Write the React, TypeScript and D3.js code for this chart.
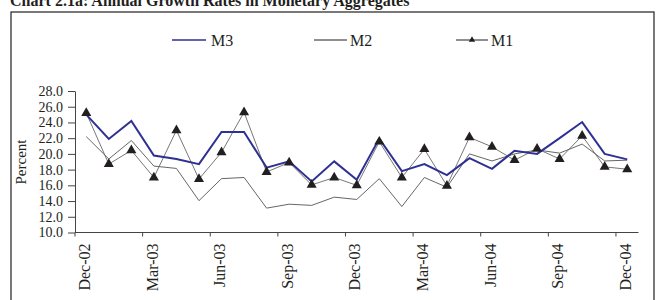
import * as d3 from 'd3'
import { useEffect, useRef } from 'react'

const months = [
  'Dec-02', 'Jan-03', 'Feb-03', 'Mar-03', 'Apr-03', 'May-03', 'Jun-03', 'Jul-03', 'Aug-03',
  'Sep-03', 'Oct-03', 'Nov-03', 'Dec-03', 'Jan-04', 'Feb-04', 'Mar-04', 'Apr-04', 'May-04',
  'Jun-04', 'Jul-04', 'Aug-04', 'Sep-04', 'Oct-04', 'Nov-04', 'Dec-04',
]
const m3 = [
  25.0, 21.9, 24.2, 19.8, 19.35, 18.7, 22.8, 22.8, 18.25, 19.05, 16.5, 19.05, 16.7,
  21.95, 17.8, 18.7, 17.3, 19.45, 18.1, 20.4, 20.0, 22.0, 24.05, 20.0, 19.3,
]
const m2 = [
  22.2, 19.35, 21.7, 18.45, 18.15, 14.05, 16.85, 17.0, 13.1, 13.6, 13.45, 14.5, 14.2,
  16.85, 13.3, 17.0, 15.75, 20.0, 19.1, 20.0, 20.5, 20.1, 21.25, 19.1, 19.2,
]
const m1 = [
  25.2, 18.7, 20.45, 17.0, 23.0, 16.8, 20.2, 25.3, 17.7, 18.9, 16.05, 17.0, 16.0,
  21.55, 17.0, 20.6, 15.95, 22.1, 20.9, 19.2, 20.65, 19.35, 22.3, 18.35, 18.05,
]
const yTicks = [10, 12, 14, 16, 18, 20, 22, 24, 26, 28]

const width = 657
const height = 300
const marginLeft = 75
const axisRight = 638.5
const yTop = 91
const yBottom = 232.5
const blue = '#2E3192'
const font = '"Liberation Serif", "DejaVu Serif", serif'

export default function App() {
  const x = d3.scaleBand(months, [marginLeft, axisRight]).paddingInner(0).paddingOuter(0)
  const y = d3.scaleLinear([10, 28], [yBottom, yTop])
  const cx = (i: number) => (x(months[i]) ?? 0) + x.bandwidth() / 2
  const line = d3.line<number>((v, i) => cx(i), y)
  const tri = d3.symbol(d3.symbolTriangle, 44)()
  const triSmall = d3.symbol(d3.symbolTriangle, 18)()
  const gyRef = useRef<SVGGElement>(null)

  useEffect(() => {
    const g = gyRef.current
    if (!g) return
    const sel = d3.select(g)
    sel.selectAll('*').remove()
    sel.call(
      d3.axisLeft(y).tickValues(yTicks).tickFormat(d3.format('.1f')).tickSize(7).tickPadding(5).tickSizeOuter(0)
    )
    sel.select('.domain').attr('stroke', '#444')
    sel.selectAll('.tick line').attr('stroke', '#444')
    sel.selectAll('.tick text')
      .attr('font-family', font)
      .attr('font-size', 14)
      .attr('fill', '#231f20')
  }, [y])

  const xTickIdx = months.map((m, i) => i).filter((i) => i % 3 === 0)

  return (
    <svg width={width} height={height} style={{ position: 'absolute', left: 0, top: 0 }}>
      <rect width={width} height={height} fill="white" />
      <text x={10} y={6} fontFamily={font} fontWeight="bold" fontSize={16} fill="#231f20">
        Chart 2.1a: Annual Growth Rates in Monetary Aggregates
      </text>
      <rect x={11} y={12} width={643} height={320} fill="none" stroke="#231f20" strokeWidth={1.2} />

      {/* legend */}
      <g fontFamily={font} fontSize={16} fill="#231f20">
        <line x1={172} x2={206} y1={40} y2={40} stroke={blue} strokeWidth={1.5} />
        <text x={211} y={46}>M3</text>
        <line x1={314} x2={347} y1={40} y2={40} stroke="#231f20" strokeWidth={1} />
        <text x={350} y={46}>M2</text>
        <line x1={456} x2={488} y1={40} y2={40} stroke="#231f20" strokeWidth={1} />
        <path d={triSmall ?? ''} transform="translate(472,40)" fill="#231f20" />
        <text x={491} y={46}>M1</text>
      </g>

      <text
        transform="translate(23,162) rotate(-90)"
        textAnchor="middle"
        dominantBaseline="middle"
        fontFamily={font}
        fontSize={15}
        fill="#231f20"
      >
        Percent
      </text>

      <g ref={gyRef} transform={`translate(${marginLeft},0)`} />

      {/* x axis */}
      <line x1={marginLeft} x2={axisRight} y1={yBottom} y2={yBottom} stroke="#444" />
      {xTickIdx.map((i) => (
        <g key={i}>
          <line x1={x(months[i])} x2={x(months[i])} y1={yBottom} y2={yBottom + 4} stroke="#444" />
          <text
            transform={`translate(${cx(i)},${yBottom + 11}) rotate(-90)`}
            textAnchor="end"
            dominantBaseline="middle"
            fontFamily={font}
            fontSize={16}
            fill="#231f20"
          >
            {months[i]}
          </text>
        </g>
      ))}

      <path d={line(m2) ?? ''} fill="none" stroke="#555" strokeWidth={0.9} />
      <path d={line(m1) ?? ''} fill="none" stroke="#666" strokeWidth={0.9} />
      <path d={line(m3) ?? ''} fill="none" stroke={blue} strokeWidth={2} strokeLinejoin="miter" />
      <g fill="#231f20">
        {m1.map((v, i) => (
          <path key={i} d={tri ?? ''} transform={`translate(${cx(i)},${y(v)})`} />
        ))}
      </g>
    </svg>
  )
}
